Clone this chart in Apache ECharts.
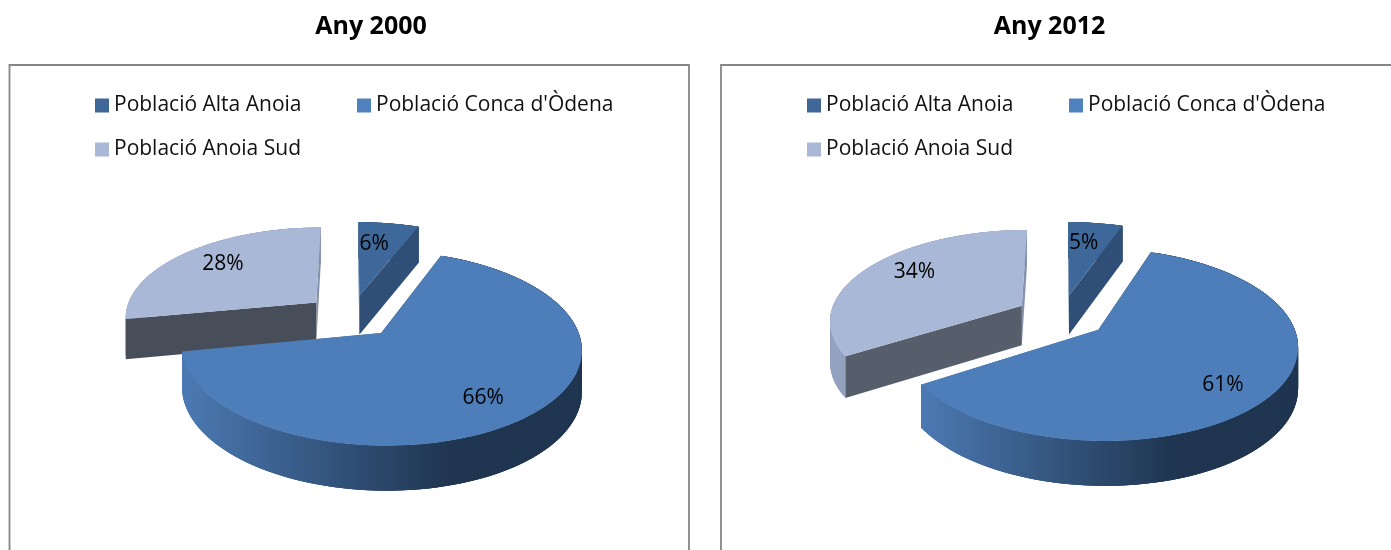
<!DOCTYPE html>
<html>
<head>
<meta charset="utf-8">
<style>
  html, body { margin: 0; padding: 0; background: #fff; overflow: hidden; }
  #chart { width: 1391px; height: 550px; }
</style>
<script src="https://cdn.jsdelivr.net/npm/echarts@6/dist/echarts.min.js"></script>
</head>
<body>
<div id="chart"></div>
<script>
var categories = ['Població Alta Anoia', "Població Conca d'Òdena", 'Població Anoia Sud']
var years = ['Any 2000', 'Any 2012']
var values2000 = [6, 66, 28]
var values2012 = [5.4, 60.6, 34]

var FONT = '"Open Sans", sans-serif'
var topColors = ['#3e6899', '#4e7eb9', '#a9b8d6']
var panels = [
  { x: 9.5, w: 679.5, cx: 351, titleX: 371, legendShift: 0, values: values2000, dark: '#474d59',
    nudge: [[-7, 2], [0, 7], [2, -2]] },
  { x: 721, w: 700, cx: 1061.5, titleX: 1049.5, legendShift: 712, values: values2012, dark: '#565e6c',
    nudge: [[-5, 2], [3, 10], [4, -5]] }
]

// echarts has no flat 3d pie, so the slices are a custom series on a tilted disc
var RX = 192, RY = 90, PERSP = 0.15, EXPLODE = 0.24, DEPTH = 40, CY = 316

function project(cx, u, v, drop) {
  var s = 1 / (1 - PERSP * v)
  return [cx + RX * u * s, CY + RY * v * s + (drop ? DEPTH * Math.pow(s, 0.6) : 0)]
}

function renderSlice(panel, idx) {
  var vals = panel.values
  var sum = vals.reduce(function (a, b) { return a + b }, 0)
  var before = vals.slice(0, idx).reduce(function (a, b) { return a + b }, 0)
  var a0 = before / sum * Math.PI * 2
  var a1 = (before + vals[idx]) / sum * Math.PI * 2
  var mid = (a0 + a1) / 2
  var ou = EXPLODE * Math.sin(mid), ov = -EXPLODE * Math.cos(mid)
  var cx = panel.cx

  var arcTop = [], arcBottom = []
  var steps = Math.ceil((a1 - a0) / 0.02)
  for (var i = 0; i <= steps; i++) {
    var a = a0 + (a1 - a0) * i / steps
    var u = ou + Math.sin(a), v = ov - Math.cos(a)
    arcTop.push(project(cx, u, v))
    arcBottom.push(project(cx, u, v, true))
  }
  var apex = project(cx, ou, ov), apexLow = project(cx, ou, ov, true)
  var top = [apex].concat(arcTop)
  var wallStart = [apex, arcTop[0], arcBottom[0], apexLow]
  var wallEnd = [apex, arcTop[steps], arcBottom[steps], apexLow]

  // rim is swept quad by quad, one ribbon polygon would pinch at the left and right ends
  // each quad runs over the next one so no seams show
  var xs = arcTop.map(function (p) { return p[0] })
  var minX = Math.min.apply(null, xs), maxX = Math.max.apply(null, xs)
  var rim = []
  for (var j = 0; j < steps; j++) {
    var fill
    if (idx === 1) {
      var t = (arcTop[j][0] - minX) / (maxX - minX) / 0.68
      fill = echarts.color.lerp(Math.min(t, 1), ['#4c7ab3', '#1f3550'])
    } else {
      fill = idx === 0 ? '#2f4f76' : '#93a2bf'
    }
    var k = Math.min(j + 3, steps)
    rim.push({
      type: 'polygon',
      shape: { points: [arcTop[j], arcTop[k], arcBottom[k], arcBottom[j]] },
      style: { fill: fill }
    })
  }

  var startFill = idx === 0 ? '#3e6899' : (idx === 1 ? '#1f3550' : panel.dark)
  var endFill = idx === 0 ? '#2f4f76' : (idx === 1 ? '#3e6899' : '#8391ad')
  var walls = [
    { type: 'polygon', shape: { points: wallEnd }, style: { fill: endFill } },
    { type: 'polygon', shape: { points: wallStart }, style: { fill: startFill } }
  ]

  var lp = project(cx, ou + 0.72 * Math.sin(mid), ov - 0.72 * Math.cos(mid))
  var children = idx === 2 ? rim.concat(walls) : walls.concat(rim)
  children.push({ type: 'polygon', shape: { points: top }, style: { fill: topColors[idx] } })
  children.push({
    type: 'text',
    style: {
      x: lp[0] + panel.nudge[idx][0], y: lp[1] + panel.nudge[idx][1],
      text: Math.round(vals[idx] / sum * 100) + '%',
      fill: '#000', font: '21px ' + FONT, textAlign: 'center', textVerticalAlign: 'middle'
    }
  })
  return { type: 'group', children: children }
}

var legendColors = ['#3f6797', '#4f81bd', '#a9b8d6']
var legendSpots = [[90, 90], [352, 90], [90, 134]]
var series = [], legends = [], titles = [], frames = []

panels.forEach(function (panel, p) {
  titles.push({
    text: years[p], left: panel.titleX - 5, top: 9, textAlign: 'center',
    textStyle: { fontFamily: FONT, fontSize: 25, fontWeight: 'bold', color: '#000' }
  })
  frames.push({
    type: 'rect',
    shape: { x: panel.x, y: 65, width: panel.w, height: 520 },
    style: { fill: 'none', stroke: '#868686', lineWidth: 1.8 }
  })
  categories.forEach(function (name, i) {
    series.push({
      type: 'custom',
      coordinateSystem: 'none',
      name: name,
      z: panel.values[i] === Math.max.apply(null, panel.values) ? 4 : 3,
      silent: true,
      itemStyle: { color: legendColors[i] },
      data: [panel.values[i]],
      renderItem: function () { return renderSlice(panel, i) }
    })
    legends.push({
      data: [name],
      left: legendSpots[i][0] + panel.legendShift,
      top: legendSpots[i][1],
      selectedMode: false,
      itemWidth: 14,
      itemHeight: 14,
      icon: 'rect',
      textStyle: { fontFamily: FONT, fontSize: 21, color: '#111' }
    })
  })
})

var chart = echarts.init(document.getElementById('chart'), null, { renderer: 'canvas' })
chart.setOption({
  animation: false,
  backgroundColor: '#fff',
  title: titles,
  legend: legends,
  graphic: frames,
  series: series
})
</script>
</body>
</html>
